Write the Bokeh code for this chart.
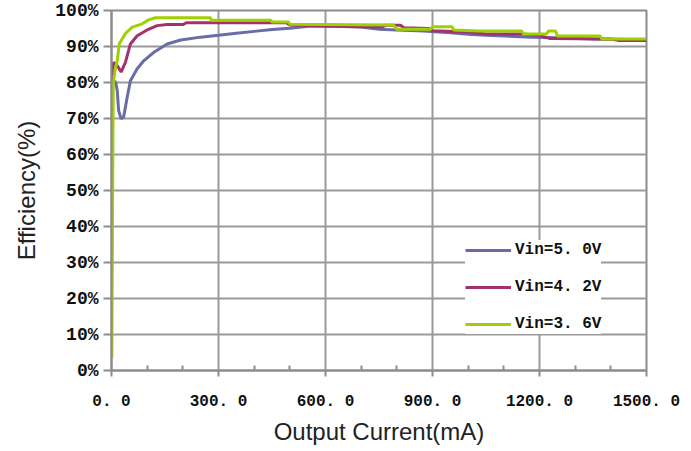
from bokeh.plotting import figure
from bokeh.models import Range1d, FixedTicker, Legend, LegendItem
from bokeh.embed import file_html
from bokeh.resources import INLINE

# Output current (mA) and efficiency (%) per input voltage
i_50 = [6, 12, 16, 20, 27, 34, 44, 53, 72, 91, 119, 156, 194, 250, 300, 350, 400, 450, 500, 560,
        620, 700, 750, 800, 875, 950, 1000, 1050, 1180, 1250, 1350, 1500]
e_50 = [80.5, 80.0, 77.8, 72.2, 69.9, 70.4, 75.9, 80.5, 83.8, 86.1, 88.4, 90.7, 91.8, 92.6, 93.1, 93.7, 94.2, 94.7, 95.1, 95.7,
        95.6, 95.4, 94.8, 94.6, 94.3, 93.8, 93.4, 93.1, 92.6, 92.4, 92.1, 91.9]

i_42 = [4, 6, 16, 27, 39, 53, 72, 100, 128, 156, 200, 210, 490, 500, 600, 700, 760, 770, 810, 820,
        890, 900, 1000, 1050, 1150, 1200, 1230, 1400, 1420, 1500]
e_42 = [80.5, 85.6, 84.7, 82.9, 85.6, 90.7, 93.0, 94.6, 95.8, 96.1, 96.1, 96.6, 96.6, 96.0, 95.7, 95.5, 95.5, 95.9, 95.9, 95.2,
        95.0, 94.4, 94.0, 93.5, 93.5, 93.1, 92.2, 92.1, 91.7, 91.7]

i_36 = [1, 3, 5, 11, 16, 22, 39, 58, 86, 104, 123, 277, 280, 446, 450, 496, 500, 790, 800, 895,
        900, 955, 960, 1030, 1150, 1155, 1220, 1225, 1245, 1250, 1370, 1375, 1500]
e_36 = [3.5, 47.0, 80.0, 84.0, 86.0, 90.8, 93.6, 95.4, 96.3, 97.4, 98.0, 98.0, 97.3, 97.3, 96.8, 96.8, 96.2, 96.0, 94.8, 94.8,
        95.5, 95.5, 94.6, 94.3, 94.3, 93.5, 93.5, 94.3, 94.3, 92.9, 92.9, 92.1, 92.1]

series_names = ["Vin=5. 0V", "Vin=4. 2V", "Vin=3. 6V"]
series_colors = ["#6b6ba8", "#a0336e", "#a0d000"]

x_ticks = [0, 300, 600, 900, 1200, 1500]
x_tick_labels = ["0. 0", "300. 0", "600. 0", "900. 0", "1200. 0", "1500. 0"]
x_minor = [100, 200, 400, 500, 700, 800, 1000, 1100, 1300, 1400]
y_ticks = [0, 10, 20, 30, 40, 50, 60, 70, 80, 90, 100]
y_tick_labels = ["0%", "10%", "20%", "30%", "40%", "50%", "60%", "70%", "80%", "90%", "100%"]

p = figure(width=691, height=451, output_backend="svg", toolbar_location=None,
           x_range=Range1d(0, 1500), y_range=Range1d(0, 100),
           min_border_left=111, min_border_right=45, min_border_top=10, min_border_bottom=81)
p.background_fill_color = "white"
p.border_fill_color = "white"
p.outline_line_color = "#8c8c8c"
p.outline_line_width = 2

grid_col = "#9a9a9a"
p.xgrid.ticker = FixedTicker(ticks=x_ticks)
p.ygrid.ticker = FixedTicker(ticks=y_ticks)
p.xgrid.grid_line_color = grid_col
p.ygrid.grid_line_color = grid_col
p.xgrid.grid_line_width = 2
p.ygrid.grid_line_width = 2

xa = p.xaxis[0]
xa.ticker = FixedTicker(ticks=x_ticks, minor_ticks=x_minor)
xa.major_label_overrides = {t: l for t, l in zip(x_ticks, x_tick_labels)}
xa.axis_line_color = "#8c8c8c"
xa.axis_line_width = 2
xa.major_tick_line_color = "#8c8c8c"
xa.major_tick_line_width = 2
xa.major_tick_out = 6
xa.major_tick_in = 0
xa.minor_tick_line_color = "#8c8c8c"
xa.minor_tick_line_width = 2
xa.minor_tick_in = 5
xa.minor_tick_out = 0
xa.major_label_text_font = "Liberation Mono"
xa.major_label_text_font_size = "16px"
xa.major_label_text_font_style = "bold"
xa.major_label_text_color = "#111111"
xa.major_label_standoff = 16
xa.axis_label = "Output Current(mA)"
xa.axis_label_text_font = "Liberation Sans"
xa.axis_label_text_font_size = "24px"
xa.axis_label_text_font_style = "normal"
xa.axis_label_text_color = "#222222"
xa.axis_label_standoff = 4

ya = p.yaxis[0]
ya.ticker = FixedTicker(ticks=y_ticks)
ya.major_label_overrides = {t: l for t, l in zip(y_ticks, y_tick_labels)}
ya.axis_line_color = "#8c8c8c"
ya.axis_line_width = 2
ya.major_tick_line_color = "#8c8c8c"
ya.major_tick_line_width = 2
ya.major_tick_out = 8
ya.major_tick_in = 0
ya.minor_tick_line_color = None
ya.major_label_text_font = "Liberation Mono"
ya.major_label_text_font_size = "18px"
ya.major_label_text_font_style = "bold"
ya.major_label_text_color = "#111111"
ya.major_label_standoff = 5
ya.axis_label = "Efficiency(%)"
ya.axis_label_text_font = "Liberation Sans"
ya.axis_label_text_font_size = "24px"
ya.axis_label_text_font_style = "normal"
ya.axis_label_text_color = "#222222"
ya.axis_label_standoff = 12

renderers = []
for xs, ys, c in zip([i_50, i_42, i_36], [e_50, e_42, e_36], series_colors):
    r = p.line(xs, ys, line_color=c, line_width=3)
    renderers.append(r)

legend = Legend(items=[LegendItem(label=n, renderers=[r]) for n, r in zip(series_names, renderers)],
                location=(354, 36))
legend.background_fill_color = "white"
legend.background_fill_alpha = 1
legend.border_line_color = None
legend.label_text_font = "Liberation Mono"
legend.label_text_font_size = "16px"
legend.label_text_font_style = "bold"
legend.label_text_color = "#111111"
legend.glyph_width = 46
legend.glyph_height = 20
legend.label_height = 20
legend.spacing = 17
legend.padding = 12
legend.margin = 0
legend.label_standoff = 4
p.add_layout(legend, "center")

open("out.html", "w").write(file_html(p, INLINE))
